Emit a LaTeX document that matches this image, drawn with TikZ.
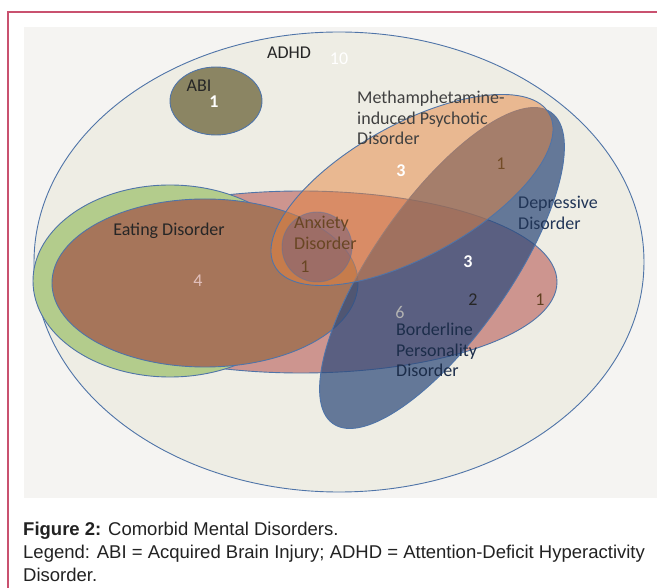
\documentclass[tikz,border=0pt]{standalone}
\usepackage{fontspec}
\setmainfont{Carlito}
\newfontfamily\capfont{Liberation Sans}
\definecolor{framered}{HTML}{C9516F}
\definecolor{plotbg}{HTML}{F5F4F2}
\definecolor{setline}{HTML}{4F74A8}
\definecolor{adhdfill}{HTML}{EEEDE4}
\definecolor{abifill}{HTML}{8B8563}
\definecolor{bpdfill}{HTML}{CD958F}
\definecolor{eatfill}{HTML}{B3CC8C}
\definecolor{eatinner}{HTML}{A6755A}
\definecolor{depfill}{HTML}{2F4B7C}
\definecolor{methfill}{HTML}{E6843F}
\definecolor{anxfill}{HTML}{826478}
\definecolor{capgray}{HTML}{222222}
\begin{document}
\begin{tikzpicture}[x=1pt, y=-1pt,
  set/.style={draw=setline, line width=0.9pt},
  lbl/.style={font=\fontsize{18}{20.5}\selectfont, inner sep=0pt, text=black!85},
  lbll/.style={lbl, align=left, anchor=west},
  numb/.style={lbl, font=\fontsize{18}{20}\selectfont\bfseries},
  capt/.style={font=\capfont\fontsize{18.5}{23}\selectfont, align=left,
    anchor=west, inner sep=0pt, text=capgray}]
  \useasboundingbox (0,0) rectangle (657,588);
  \fill[white] (0,0) rectangle (657,588);
  \fill[plotbg] (24,27) rectangle (657,498);
  \draw[framered, line width=2pt] (657,12) -- (8,12) -- (8,588);

  % sets
  \draw[set, fill=adhdfill] (339,262) ellipse [x radius=305, y radius=230];
  \draw[set, fill=abifill] (216,101) ellipse [x radius=46, y radius=34];
  \draw[set, fill=bpdfill] (301,282) ellipse [x radius=256, y radius=91];
  \draw[set, fill=eatfill] (170,281) ellipse [x radius=137, y radius=96];
  \draw[set, fill=eatinner] (205,283) ellipse [x radius=153, y radius=84];
  \draw[set, fill=depfill, fill opacity=0.72, rotate around={55:(442,268)}]
    (442,268) ellipse [x radius=190, y radius=68];
  \draw[set, fill=methfill, fill opacity=0.5, rotate around={29:(412,190)}]
    (412,190) ellipse [x radius=157, y radius=66];
  \draw[set, draw opacity=0.4, fill=anxfill, fill opacity=0.6]
    (317,247) ellipse [x radius=35, y radius=35];

  % labels
  \node[lbl] (adhd) at (289,53) {ADHD};
  \node[lbl, text=white] (adhdn) at (339,59) {10};
  \node[lbl] (abi) at (199,86) {ABI};
  \node[numb, text=white] (abin) at (214,102) {1};
  \node[lbll, text=black!75] (meth) at (357,118)
    {Methamphetamine-\\induced Psychotic\\Disorder};
  \node[numb, text=white] (methn) at (401,171) {3};
  \node[lbl, text=brown!60!black] (methdep) at (501,164) {1};
  \node[lbll, text=depfill!70!black] (dep) at (518,213) {Depressive\\Disorder};
  \node[lbl] (eat) at (169,231) {Eating Disorder};
  \node[lbll, text=brown!55!black] (anx) at (294,233) {Anxiety\\Disorder};
  \node[lbl, text=brown!55!black] (anxn) at (305,267) {1};
  \node[lbl, text=bpdfill!60!white] (eatn) at (198,281) {4};
  \node[numb, text=white] (depn) at (468,262) {3};
  \node[lbl] (bpddep) at (473,300) {2};
  \node[lbl, text=brown!50!black] (bpdn) at (540,300) {1};
  \node[lbl, text=gray!60] (bpdsix) at (400,312) {6};
  \node[lbll, text=depfill!60!black] (bpd) at (396,350)
    {Borderline\\Personality\\Disorder};

  % caption
  \node[capt] (caption) at (23,552)
    {\textbf{Figure 2:} Comorbid Mental Disorders.\\
     Legend: ABI = Acquired Brain Injury; ADHD = Attention-Deficit Hyperactivity\\
     Disorder.};
\end{tikzpicture}
\end{document}
